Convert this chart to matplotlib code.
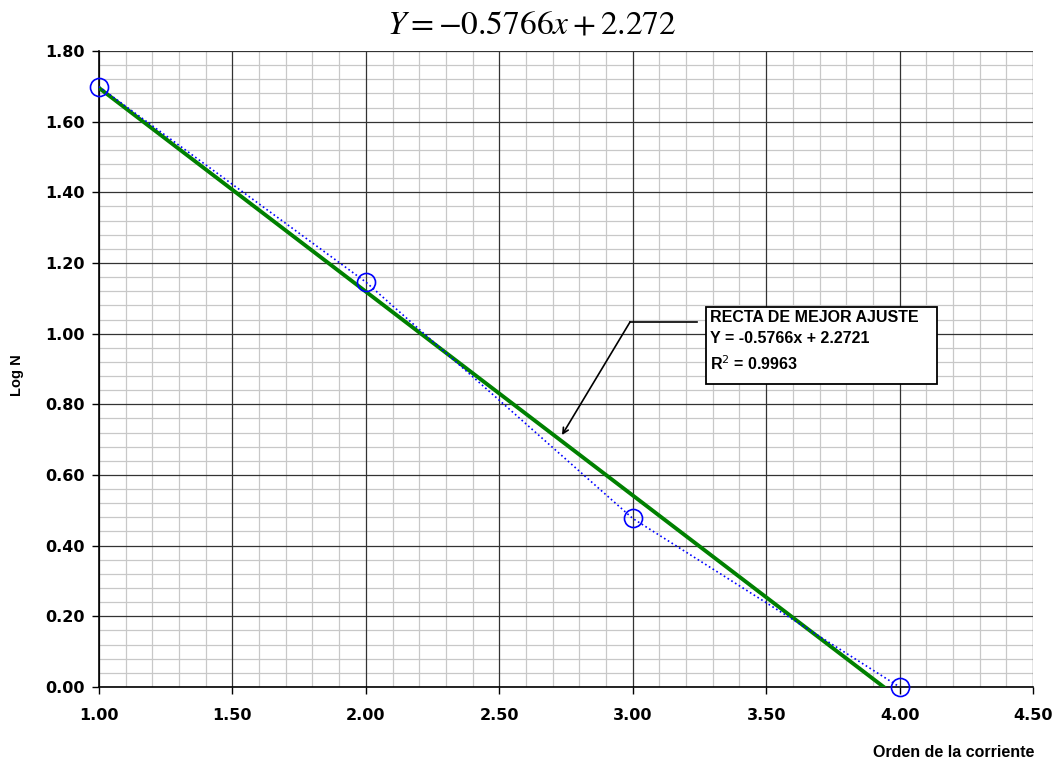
import matplotlib
matplotlib.use("Agg")
import matplotlib.pyplot as plt
from matplotlib.patches import Rectangle
from matplotlib.ticker import MultipleLocator, FixedLocator, FormatStrFormatter

# stream order vs log of number of streams
orden = [1, 2, 3, 4]
log_n = [1.699, 1.146, 0.477, 0.0]

slope = -0.5766
intercept = 2.2721
fit_x = [1.0, -intercept / slope]
fit_y = [slope * v + intercept for v in fit_x]

fig = plt.figure(figsize=(10.63, 7.61), dpi=100)
ax = fig.add_axes([0.0931, 0.0973, 0.8787, 0.8357])

ax.set_xlim(1.0, 4.5)
ax.set_ylim(0.0, 1.8)
ax.xaxis.set_major_locator(MultipleLocator(0.5))
ax.yaxis.set_major_locator(MultipleLocator(0.2))
# minor grid, skipping the major positions
ax.xaxis.set_minor_locator(FixedLocator([1 + 0.1 * i for i in range(36) if i % 5]))
ax.yaxis.set_minor_locator(FixedLocator([0.04 * i for i in range(46) if i % 5]))
ax.xaxis.set_major_formatter(FormatStrFormatter("%.2f"))
ax.yaxis.set_major_formatter(FormatStrFormatter("%.2f"))

ax.grid(which="minor", color="#c8c8c8", lw=0.9)
ax.set_axisbelow(True)
# major grid drawn on top of the minor one
for v in ax.get_xticks():
    ax.axvline(v, color="#333333", lw=0.9, zorder=1.5)
for v in ax.get_yticks():
    ax.axhline(v, color="#333333", lw=0.9, zorder=1.5)

for s in ["top", "right"]:
    ax.spines[s].set_visible(False)
ax.spines["left"].set_linewidth(1.2)
ax.spines["bottom"].set_linewidth(1.2)
ax.tick_params(which="major", direction="out", length=5, width=1)
ax.tick_params(axis="x", pad=10)
ax.tick_params(axis="y", pad=5)
ax.tick_params(which="minor", length=0)
for lab in ax.get_xticklabels() + ax.get_yticklabels():
    lab.set_fontweight("bold")
    lab.set_fontsize(11.5)

ax.plot(orden, log_n, ls=":", color="blue", lw=1.2, marker="o", ms=13,
        mfc="none", mec="blue", mew=1.2, clip_on=False, zorder=4)
ax.plot(fit_x, fit_y, color="#008000", lw=2.8, zorder=3)

# label for the fitted line
ax.add_patch(Rectangle((3.274, 0.858), 0.866, 0.218, fc="white", ec="black",
                       lw=1.3, zorder=6))
ax.text(3.29, 1.067,
        "RECTA DE MEJOR AJUSTE\nY = -0.5766x + 2.2721\nR$^2$ = 0.9963",
        family="Liberation Sans", fontweight="bold", fontsize=11.5,
        va="top", ha="left", linespacing=1.5, zorder=7)
ax.plot([2.99, 3.24], [1.033, 1.033], color="black", lw=1.2, zorder=5)
ax.annotate("", xy=(2.735, 0.713), xytext=(2.99, 1.033),
            arrowprops=dict(arrowstyle="->", color="black", lw=1.2,
                            shrinkA=0, shrinkB=0), zorder=5)

ax.set_ylabel("Log N", fontweight="bold", fontsize=10.5, family="Liberation Sans")
ax.yaxis.set_label_coords(-0.080, 0.49)
fig.text(0.897, 0.011, "Orden de la corriente", fontweight="bold", fontsize=11.5,
         family="Liberation Sans", ha="center", va="center")

fig.text(0.5, 0.969, r"$Y = -0.5766x + 2.272$", fontsize=24,
         math_fontfamily="stix", ha="center", va="center")

fig.savefig("out.png", dpi=100)
